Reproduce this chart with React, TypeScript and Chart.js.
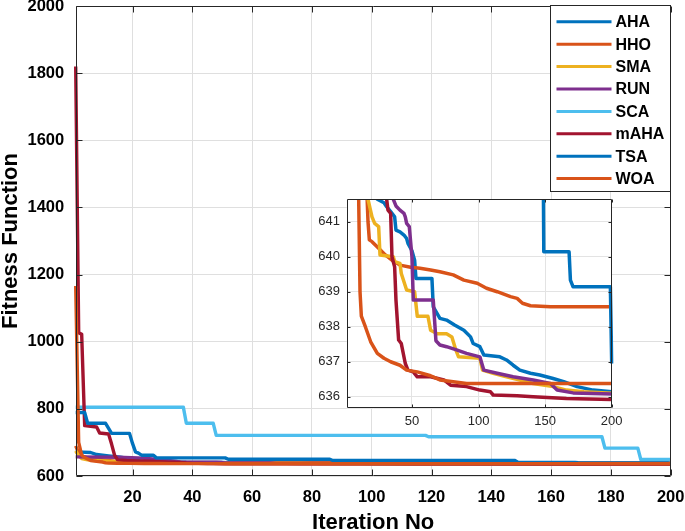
import React, { useEffect, useRef } from "react";
import { Chart, registerables } from "chart.js";

Chart.register(...registerables);

const FONT = "'Liberation Sans', Arial, Helvetica, sans-serif";

// ---- Data (iteration -> best fitness) ----
const seriesNames = ["AHA", "HHO", "SMA", "RUN", "SCA", "mAHA", "TSA", "WOA"];
const seriesColors = ["#0072BD", "#D95319", "#EDB120", "#7E2F8E", "#4DBEEE", "#A2142F", "#0072BD", "#D95319"];

const ahaIter = [1, 6, 8, 12, 16, 20, 22, 24, 29, 31, 34, 37, 38, 41, 44, 46, 47, 50, 52, 53, 65, 66, 71, 76, 82, 89, 94, 96, 101, 104, 116, 121, 126, 131, 139, 146, 156, 164, 174, 186, 200];
const ahaVal = [672, 670, 664, 660, 656, 650, 646, 641.64, 641.54, 641.43, 641.29, 641.14, 640.76, 640.71, 640.62, 640.52, 640.38, 640.17, 639.9, 639.38, 639.38, 638.57, 638.24, 638.19, 638.05, 637.9, 637.71, 637.52, 637.43, 637.19, 637.14, 637.05, 636.9, 636.76, 636.67, 636.62, 636.52, 636.43, 636.29, 636.19, 636.14];

const hhoIter = [1, 2, 3, 5, 8, 11, 14, 16, 17, 18, 20, 25, 30, 35, 41, 49, 56, 64, 71, 81, 89, 99, 106, 114, 124, 129, 133, 139, 154, 200];
const hhoVal = [690, 668, 660, 654, 650, 647, 644, 642, 641.0, 640.48, 640.43, 640.24, 640.05, 639.9, 639.76, 639.7, 639.67, 639.62, 639.57, 639.48, 639.33, 639.24, 639.1, 639.0, 638.86, 638.81, 638.67, 638.6, 638.57, 638.57];

const smaIter = [1, 2, 3, 5, 8, 12, 15, 17, 20, 22, 25, 26, 36, 37, 41, 42, 46, 52, 54, 62, 64, 69, 76, 80, 83, 85, 101, 103, 111, 121, 131, 141, 156, 166, 179, 200];
const smaVal = [675, 660, 652, 648, 646, 644, 642.5, 641.64, 641.14, 640.95, 640.86, 640.05, 640.0, 639.86, 639.81, 639.52, 639.05, 639.0, 638.3, 638.3, 637.9, 637.8, 637.8, 637.71, 637.33, 637.14, 637.1, 636.76, 636.67, 636.57, 636.48, 636.38, 636.29, 636.19, 636.14, 636.1];

const runIter = [1, 15, 22, 28, 32, 35, 36, 38, 41, 44, 45, 46, 48, 50, 51, 66, 68, 71, 76, 84, 91, 101, 104, 114, 126, 141, 154, 159, 171, 200];
const runVal = [657, 656, 654, 650, 646, 643, 641.64, 641.45, 641.33, 641.24, 641.14, 640.95, 640.86, 640.0, 638.76, 638.76, 637.6, 637.48, 637.43, 637.33, 637.24, 637.14, 636.76, 636.67, 636.57, 636.48, 636.38, 636.19, 636.11, 636.08];

const scaIter = [1, 37, 38, 47, 48, 118, 119, 177, 178, 189, 190, 200];
const scaVal = [805, 805, 757, 757, 721, 721, 717, 717, 683, 683, 649, 649];

const mahaIter = [1, 2, 3, 4, 8, 9, 12, 13, 14, 15, 18, 22, 26, 29, 31, 32, 34, 35, 37, 38, 40, 42, 45, 47, 51, 54, 64, 74, 79, 91, 101, 109, 111, 129, 141, 166, 200];
const mahaVal = [1820, 1027, 1022, 750, 746, 728, 725, 695, 662, 648, 646, 645, 644, 642.5, 641.64, 641.33, 641.24, 640.0, 639.71, 638.76, 637.62, 637.52, 636.95, 636.76, 636.71, 636.57, 636.57, 636.48, 636.33, 636.29, 636.19, 636.14, 636.05, 636.03, 636.0, 635.95, 635.92];

const tsaIter = [1, 4, 5, 11, 12, 13, 19, 20, 21, 22, 23, 27, 28, 51, 52, 86, 87, 148, 149, 168, 169, 171, 199, 200];
const tsaVal = [789, 789, 757, 757, 742, 727, 727, 697, 672, 668, 662, 662, 654, 654, 650, 650, 646, 646, 640.14, 640.14, 639.33, 639.14, 639.14, 636.95];

const woaIter = [1, 2, 3, 4, 6, 8, 10, 11, 12, 15, 19, 24, 29, 34, 41, 46, 54, 64, 71, 81, 91, 200];
const woaVal = [1166, 700, 662, 655, 646, 643.5, 641.64, 639.0, 638.3, 638.0, 637.57, 637.24, 637.1, 637.0, 636.9, 636.76, 636.71, 636.6, 636.48, 636.43, 636.38, 636.38];

const seriesIters = [ahaIter, hhoIter, smaIter, runIter, scaIter, mahaIter, tsaIter, woaIter];
const seriesValues = [ahaVal, hhoVal, smaVal, runVal, scaVal, mahaVal, tsaVal, woaVal];

const mainXTicks = [20, 40, 60, 80, 100, 120, 140, 160, 180, 200];
const mainYTicks = [600, 800, 1000, 1200, 1400, 1600, 1800, 2000];
const insetXTicks = [50, 100, 150, 200];
const insetYTicks = [636, 637, 638, 639, 640, 641];

function makeDatasets(width: number, clip: any) {
  return seriesNames.map((name, i) => ({
    label: name,
    data: seriesIters[i].map((x, j) => ({ x, y: seriesValues[i][j] })),
    borderColor: seriesColors[i],
    backgroundColor: seriesColors[i],
    borderWidth: width,
    pointRadius: 0,
    pointHoverRadius: 0,
    tension: 0,
    fill: false,
    clip,
    borderJoinStyle: "round" as const,
    order: seriesNames.length - i,
  }));
}

function framePlugin(id: string, tickLen: number, color: string, whiteBg: boolean) {
  return {
    id,
    beforeDraw(chart: any) {
      if (!whiteBg) return;
      const a = chart.chartArea;
      const ctx = chart.ctx;
      ctx.save();
      ctx.fillStyle = "#ffffff";
      ctx.fillRect(a.left, a.top, a.right - a.left, a.bottom - a.top);
      ctx.restore();
    },
    afterDatasetsDraw(chart: any) {
      const a = chart.chartArea;
      const ctx = chart.ctx;
      const L = Math.round(a.left) + 0.5;
      const R = Math.round(a.right) - 0.5;
      const T = Math.round(a.top) + 0.5;
      const B = Math.round(a.bottom) - 0.5;
      ctx.save();
      ctx.strokeStyle = color;
      ctx.lineWidth = 1;
      ctx.beginPath();
      ctx.rect(L, T, R - L, B - T);
      const xs = chart.scales.x;
      const ys = chart.scales.y;
      xs.ticks.forEach((t: any) => {
        const px = Math.round(xs.getPixelForValue(t.value)) + 0.5;
        ctx.moveTo(px, B);
        ctx.lineTo(px, B - tickLen);
        ctx.moveTo(px, T);
        ctx.lineTo(px, T + tickLen);
      });
      ys.ticks.forEach((t: any) => {
        const py = Math.round(ys.getPixelForValue(t.value)) + 0.5;
        ctx.moveTo(L, py);
        ctx.lineTo(L + tickLen, py);
        ctx.moveTo(R, py);
        ctx.lineTo(R - tickLen, py);
      });
      ctx.stroke();
      ctx.restore();
    },
  };
}

const legendPlugin = {
  id: "boxLegend",
  afterDraw(chart: any) {
    const ctx = chart.ctx;
    const a = chart.chartArea;
    const right = Math.round(a.right) - 0.5;
    const left = right - 120;
    const top = 5.5;
    const rowH = 22.4;
    const height = 186;
    ctx.save();
    ctx.fillStyle = "#ffffff";
    ctx.fillRect(left, top, right - left, height);
    ctx.strokeStyle = "#262626";
    ctx.lineWidth = 1;
    ctx.strokeRect(left, top, right - left, height);
    ctx.font = `bold 16px ${FONT}`;
    ctx.textBaseline = "middle";
    ctx.textAlign = "left";
    chart.data.datasets.forEach((ds: any, i: number) => {
      const y = top + 16.3 + i * rowH;
      ctx.strokeStyle = ds.borderColor;
      ctx.lineWidth = 3;
      ctx.beginPath();
      ctx.moveTo(left + 6, y);
      ctx.lineTo(left + 61, y);
      ctx.stroke();
      ctx.fillStyle = "#000000";
      ctx.fillText(ds.label, left + 65, y + 1);
    });
    ctx.restore();
  },
};

const plainNumber = (v: any) => String(v);

export default function App() {
  const mainRef = useRef<HTMLCanvasElement>(null);
  const insetRef = useRef<HTMLCanvasElement>(null);

  useEffect(() => {
    const main = new Chart(mainRef.current as HTMLCanvasElement, {
      type: "line",
      data: { datasets: makeDatasets(3.4, false) as any },
      options: {
        animation: false,
        responsive: false,
        devicePixelRatio: 1,
        events: [],
        layout: { autoPadding: false, padding: { left: 0, top: 6, right: 14.3, bottom: 0 } },
        plugins: { legend: { display: false }, tooltip: { enabled: false } },
        scales: {
          x: {
            type: "linear",
            min: 1,
            max: 200,
            afterBuildTicks: (s: any) => {
              s.ticks = mainXTicks.map((v) => ({ value: v }));
            },
            afterFit: (s: any) => {
              s.height = 55;
              s.paddingLeft = 0;
              s.paddingRight = 0;
            },
            grid: { color: "#dfdfdf", lineWidth: 1, drawTicks: false },
            border: { display: false },
            ticks: {
              autoSkip: false,
              maxRotation: 0,
              padding: 12,
              color: "#000000",
              callback: plainNumber,
              font: { family: FONT, size: 16.5, weight: "bold" },
            },
            title: {
              display: true,
              text: "Iteration No",
              color: "#000000",
              font: { family: FONT, size: 22, weight: "bold", lineHeight: 1 },
              padding: { top: 0, bottom: -3 },
            },
          },
          y: {
            type: "linear",
            min: 600,
            max: 2000,
            afterBuildTicks: (s: any) => {
              s.ticks = mainYTicks.map((v) => ({ value: v }));
            },
            afterFit: (s: any) => {
              s.width = 75.7;
              s.paddingTop = 0;
              s.paddingBottom = 0;
            },
            grid: { color: "#dfdfdf", lineWidth: 1, drawTicks: false },
            border: { display: false },
            ticks: {
              autoSkip: false,
              padding: 11.5,
              color: "#000000",
              callback: plainNumber,
              font: { family: FONT, size: 16.5, weight: "bold" },
            },
            title: {
              display: true,
              text: "Fitness Function",
              color: "#000000",
              font: { family: FONT, size: 22, weight: "bold", lineHeight: 1 },
              padding: { top: 0, bottom: 0 },
            },
          },
        },
      } as any,
      plugins: [framePlugin("mainFrame", 6, "#262626", false), legendPlugin] as any,
    });

    const inset = new Chart(insetRef.current as HTMLCanvasElement, {
      type: "line",
      data: { datasets: makeDatasets(3.5, { left: 0, top: 0, right: 2, bottom: 0 }) as any },
      options: {
        animation: false,
        responsive: false,
        devicePixelRatio: 1,
        events: [],
        layout: { autoPadding: false, padding: { left: 0, top: 9.3, right: 18.3, bottom: 0 } },
        plugins: { legend: { display: false }, tooltip: { enabled: false } },
        scales: {
          x: {
            type: "linear",
            min: 1,
            max: 200,
            afterBuildTicks: (s: any) => {
              s.ticks = insetXTicks.map((v) => ({ value: v }));
            },
            afterFit: (s: any) => {
              s.height = 31.7;
              s.paddingLeft = 0;
              s.paddingRight = 0;
            },
            grid: { color: "#e3e3e3", lineWidth: 1, drawTicks: false },
            border: { display: false },
            ticks: {
              autoSkip: false,
              maxRotation: 0,
              padding: 5.6,
              color: "#262626",
              callback: plainNumber,
              font: { family: FONT, size: 13 },
            },
          },
          y: {
            type: "linear",
            min: 635.67,
            max: 641.64,
            afterBuildTicks: (s: any) => {
              s.ticks = insetYTicks.map((v) => ({ value: v }));
            },
            afterFit: (s: any) => {
              s.width = 46.7;
              s.paddingTop = 0;
              s.paddingBottom = 0;
            },
            grid: { color: "#e3e3e3", lineWidth: 1, drawTicks: false },
            border: { display: false },
            ticks: {
              autoSkip: false,
              padding: 6.7,
              color: "#262626",
              callback: plainNumber,
              font: { family: FONT, size: 13 },
            },
          },
        },
      } as any,
      plugins: [framePlugin("insetFrame", 3, "#262626", true)] as any,
    });

    return () => {
      main.destroy();
      inset.destroy();
    };
  }, []);

  return (
    <div style={{ position: "fixed", left: 0, top: 0, width: 685, height: 531, background: "#ffffff" }}>
      <canvas
        ref={mainRef}
        width={685}
        height={531}
        style={{ position: "absolute", left: 0, top: 0, display: "block" }}
      />
      <canvas
        ref={insetRef}
        width={330}
        height={250}
        style={{ position: "absolute", left: 300, top: 190, display: "block" }}
      />
    </div>
  );
}
